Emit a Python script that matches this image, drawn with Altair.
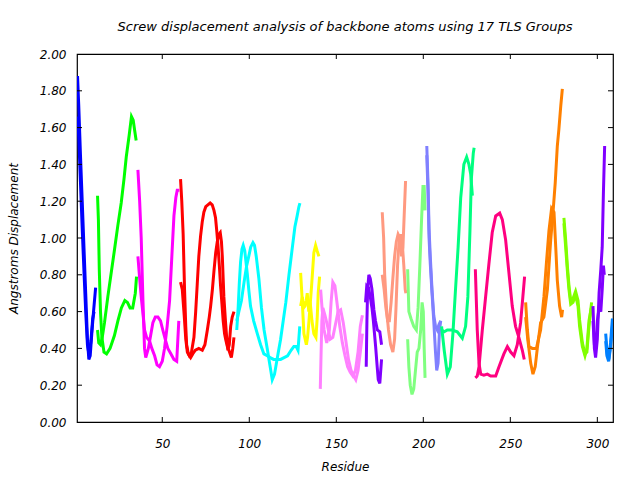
import altair as alt
import pandas as pd

TITLE = "Screw displacement analysis of backbone atoms using 17 TLS Groups"
X_TITLE = "Residue"
Y_TITLE = "Angstroms Displacement"
X_TICKS = [50, 100, 150, 200, 250, 300]
Y_TICKS = [0.0, 0.2, 0.4, 0.6, 0.8, 1.0, 1.2, 1.4, 1.6, 1.8, 2.0]
X_DOMAIN = [1, 309]
Y_DOMAIN = [0, 2]

GROUP_COLORS = ["#0000ff", "#00ff00", "#ff00ff", "#ff0000", "#00ffff", "#ffff00",
                "#ff80ff", "#8000ff", "#ff9980", "#80ff80", "#8080ff", "#00ff80",
                "#ff0080", "#ff8000", "#80ff00", "#8000ff", "#0080ff"]

# (residue, displacement) pairs; two traces per TLS group
g01_a = [(1.3, 1.88), (2, 1.72), (3, 1.45), (4, 1.2), (5, 0.95), (6, 0.7), (7, 0.45), (7.8, 0.34),
         (8.6, 0.36), (9.5, 0.48), (10.5, 0.6), (11.7, 0.73)]
g01_b = [(1.3, 1.66), (2, 1.55), (3, 1.3), (4, 1.05), (5, 0.82), (6, 0.6), (7, 0.42), (8, 0.36),
         (9, 0.44), (10, 0.56), (10.8, 0.6)]

g02_a = [(12.8, 1.23), (13.3, 1.1), (13.8, 0.83), (14.5, 0.6), (15.3, 0.46), (16.5, 0.38), (18, 0.37),
         (20, 0.40), (22.5, 0.47), (24.5, 0.55), (26.5, 0.62), (28.5, 0.66), (30, 0.65), (31.5, 0.62),
         (33, 0.62), (34.5, 0.70), (35.2, 0.79)]
g02_b = [(12.8, 0.50), (13.5, 0.43), (14.5, 0.42), (15.5, 0.46), (16.8, 0.54), (18.7, 0.68), (20.5, 0.80),
         (22.6, 0.94), (24.5, 1.07), (26.4, 1.19), (28, 1.32), (29.3, 1.44), (31, 1.56), (32.3, 1.66),
         (33.3, 1.64), (34.2, 1.58), (35, 1.53)]

g03_a = [(36, 1.37), (37, 1.20), (37.9, 1.0), (38.9, 0.66), (39.8, 0.40), (40.5, 0.35), (42, 0.40),
         (44.6, 0.54), (46, 0.57), (47.5, 0.57), (49, 0.55), (50.3, 0.50), (52, 0.44), (53.2, 0.40),
         (55, 0.37), (56.7, 0.34), (58.3, 0.33), (59.5, 0.55)]
g03_b = [(36, 0.90), (37, 0.78), (37.9, 0.68), (39, 0.58), (39.8, 0.50), (41, 0.46), (42.7, 0.44),
         (44, 0.40), (45.6, 0.36), (47, 0.31), (48.4, 0.30), (50, 0.33), (51.3, 0.40), (52.8, 0.52),
         (54.2, 0.66), (55.5, 0.90), (56.7, 1.12), (57.8, 1.22), (58.6, 1.26), (59.8, 1.26)]

g04_a = [(60.5, 1.32), (61.2, 1.20), (62, 1.02), (62.8, 0.72), (63.5, 0.52), (64, 0.42), (65, 0.37),
         (66.3, 0.35), (67.5, 0.37), (69, 0.39), (71, 0.40), (73, 0.39), (74.5, 0.42), (75.9, 0.50),
         (77, 0.57), (77.8, 0.63), (78.8, 0.72), (79.7, 0.82), (80.7, 0.92), (81.6, 0.98), (82.5, 1.02),
         (83.3, 1.03), (84, 0.98), (84.5, 0.90), (85.4, 0.68), (86.3, 0.55), (87, 0.46), (87.7, 0.39),
         (88.5, 0.42), (89.3, 0.52), (90.2, 0.57), (91.2, 0.60)]
g04_b = [(60.5, 0.76), (61.5, 0.72), (62.6, 0.58), (63.5, 0.45), (64.4, 0.38), (65.5, 0.36), (66.8, 0.38),
         (68.2, 0.46), (69.2, 0.60), (70.1, 0.75), (71, 0.90), (72, 1.01), (73, 1.09), (73.9, 1.14),
         (75, 1.17), (76.2, 1.18), (77.5, 1.19), (78.7, 1.18), (79.7, 1.15), (80.6, 1.11), (81.3, 1.04),
         (82, 0.96), (82.8, 0.85), (83.5, 0.74), (84.3, 0.64), (85, 0.55), (85.8, 0.48), (86.4, 0.45),
         (87.4, 0.41), (88.3, 0.39), (89.7, 0.35), (90.5, 0.40), (91.2, 0.46)]

g05_a = [(92.8, 0.50), (93.6, 0.62), (94.3, 0.76), (95, 0.87), (95.8, 0.94), (96.5, 0.96), (97.4, 0.93),
         (98.8, 0.81), (99.8, 0.71), (100.7, 0.63), (102.5, 0.55), (104.6, 0.48), (106.5, 0.42),
         (108.4, 0.37), (110.3, 0.36), (112, 0.35), (114, 0.34), (116, 0.34), (118, 0.34), (120, 0.35),
         (122, 0.36), (124, 0.39), (125.6, 0.41), (127, 0.41), (128, 0.39), (129, 0.52)]
g05_b = [(92.8, 0.55), (94, 0.60), (95.5, 0.66), (97, 0.76), (98.5, 0.85), (99.7, 0.90), (100.8, 0.95),
         (102.1, 0.975), (103, 0.96), (104, 0.90), (105.5, 0.78), (107, 0.62), (108.5, 0.50),
         (110.3, 0.40), (112, 0.30), (113.2, 0.23), (114.5, 0.26), (116.5, 0.37), (118, 0.45),
         (119.5, 0.55), (121, 0.65), (122.8, 0.80), (124.5, 0.93), (126.2, 1.06), (127.5, 1.12),
         (128.5, 1.17), (129.1, 1.19)]

g06_a = [(129.5, 0.81), (130.3, 0.68), (131.4, 0.48), (132.8, 0.42), (133.5, 0.46), (134.3, 0.55),
         (135.8, 0.74), (137.1, 0.92), (138.1, 0.96), (139, 0.93), (140, 0.90)]
g06_b = [(129.5, 0.63), (130.5, 0.68), (131.2, 0.62), (132, 0.63), (132.7, 0.66), (133.3, 0.70),
         (134.2, 0.60), (135, 0.65), (136, 0.55), (137.1, 0.48), (138.3, 0.46), (139, 0.56),
         (139.6, 0.70), (140.4, 0.79)]

g07_a = [(141, 0.72), (141.8, 0.62), (143, 0.50), (144.5, 0.43), (146, 0.50), (147, 0.65), (148, 0.76),
         (149.2, 0.74), (150.5, 0.64), (152, 0.52), (153.5, 0.43), (155, 0.36), (156.5, 0.30),
         (158, 0.27), (159.5, 0.25), (161, 0.28), (162.5, 0.38), (163.8, 0.52), (165, 0.58)]
g07_b = [(140.8, 0.18), (141.2, 0.35), (141.7, 0.55), (142.3, 0.62), (143.5, 0.58), (145, 0.52),
         (146.5, 0.45), (148, 0.46), (149.5, 0.53), (151, 0.60), (152.5, 0.61), (154, 0.54),
         (155.5, 0.44), (157, 0.34), (158.5, 0.28), (160, 0.25), (161.2, 0.23), (162.5, 0.28),
         (163.8, 0.38), (165, 0.48)]

g08_a = [(167.2, 0.30), (167.6, 0.55), (168, 0.72), (168.7, 0.80), (169.5, 0.78), (170.5, 0.72),
         (171.6, 0.61), (172.5, 0.55), (173.6, 0.50), (175, 0.49), (176, 0.42)]
g08_b = [(166.8, 0.65), (167.5, 0.74), (168.5, 0.73), (169.5, 0.68), (170.5, 0.62), (171.3, 0.55),
         (172.6, 0.41), (173.5, 0.30), (174.1, 0.23), (175, 0.21), (176, 0.34)]

g09_a = [(176.4, 1.14), (177.2, 1.0), (177.8, 0.80), (178.9, 0.61), (180, 0.50), (181.2, 0.42),
         (182.5, 0.38), (183.5, 0.45), (184.3, 0.62), (185.2, 0.85), (186, 0.97), (187, 1.02),
         (188, 0.96), (188.8, 0.85), (189.6, 0.72), (190, 0.70)]
g09_b = [(176.4, 0.80), (177.5, 0.72), (178.5, 0.62), (179.5, 0.55), (180.5, 0.55), (181.5, 0.65),
         (182.5, 0.78), (183.5, 0.90), (184.5, 0.98), (185.5, 1.02), (186.5, 1.0), (187.5, 0.90),
         (188.3, 0.95), (189, 1.12), (189.8, 1.31)]

g10_a = [(191, 0.83), (191.7, 0.60), (193, 0.56), (194.5, 0.52), (196, 0.50), (197, 0.62), (198, 0.85),
         (199, 1.10), (199.8, 1.28), (200.5, 1.28), (201, 1.15)]
g10_b = [(191, 0.45), (191.7, 0.30), (192.5, 0.20), (193.5, 0.15), (194.5, 0.18), (195.5, 0.28),
         (196.5, 0.38), (197.5, 0.40), (198.5, 0.50), (199.3, 0.65), (200, 0.60), (200.5, 0.40),
         (201, 0.24)]

g11_a = [(202, 1.50), (202.7, 1.30), (203.3, 1.05), (204, 0.90), (205, 0.72), (206, 0.58), (207, 0.52),
         (208, 0.50), (209, 0.53), (210, 0.55)]
g11_b = [(202, 1.45), (202.7, 1.25), (203.3, 1.0), (204, 0.86), (205, 0.70), (206, 0.55), (207, 0.38),
         (207.7, 0.28), (208.5, 0.32), (209.3, 0.50), (210, 0.55)]

g12_a = [(210.5, 0.52), (212, 0.39), (213.8, 0.26), (215.5, 0.30), (217, 0.48), (218.5, 0.72),
         (220, 0.95), (221.5, 1.22), (223.3, 1.40), (224.9, 1.44), (226.2, 1.40), (227.2, 1.35),
         (228.2, 1.23)]
g12_b = [(210.5, 0.50), (212, 0.49), (213.8, 0.50), (216.5, 0.50), (219.5, 0.49), (222.4, 0.455),
         (224.3, 0.52), (225.6, 0.68), (226.8, 1.04), (227.6, 1.32), (228.7, 1.46), (229.2, 1.49)]

g13_a = [(229.9, 0.83), (231, 0.50), (232, 0.32), (233, 0.26), (234.8, 0.255), (236.8, 0.26),
         (238.7, 0.25), (241.6, 0.25), (243.5, 0.30), (246.3, 0.37), (248.3, 0.41), (250.2, 0.38),
         (252.1, 0.36), (254, 0.42), (255.9, 0.54), (257.2, 0.68), (258.2, 0.79)]
g13_b = [(229.9, 0.24), (231, 0.25), (232, 0.30), (233.9, 0.50), (235.8, 0.68), (237.7, 0.86),
         (239.6, 1.03), (241.6, 1.12), (243.9, 1.135), (245.4, 1.10), (247.3, 0.99), (249.2, 0.81),
         (251.1, 0.63), (253, 0.52), (254.9, 0.46), (256.9, 0.39), (258, 0.34)]

g14_a = [(258.8, 0.65), (259.8, 0.50), (260.7, 0.41), (262.6, 0.40), (265, 0.40), (266.4, 0.46),
         (267.4, 0.50), (269.3, 0.68), (270.7, 0.86), (272.2, 1.04), (273.7, 1.16), (275.1, 1.14),
         (276.1, 0.95), (277, 0.77), (278.3, 0.63), (279.5, 0.57), (280, 0.61)]
g14_b = [(258.8, 0.57), (260, 0.45), (261.7, 0.32), (263, 0.26), (264.3, 0.30), (265.5, 0.40),
         (267.4, 0.54), (269.3, 0.57), (271.3, 0.72), (273.2, 0.99), (274.5, 1.135), (275.8, 1.30),
         (277, 1.50), (277.9, 1.59), (279, 1.72), (279.9, 1.81)]

g15_a = [(280.8, 1.11), (281.8, 0.99), (282.8, 0.845), (283.7, 0.74), (284.7, 0.66), (286, 0.67),
         (287.5, 0.71), (288.9, 0.66), (289.8, 0.555), (291.4, 0.43), (292.9, 0.37), (294, 0.38),
         (295.2, 0.52), (296.7, 0.65)]
g15_b = [(280.8, 1.08), (281.8, 0.95), (282.8, 0.82), (283.7, 0.72), (284.7, 0.64), (286, 0.65),
         (287.5, 0.69), (288.9, 0.63), (289.8, 0.52), (291.4, 0.41), (292.9, 0.36), (294, 0.40),
         (295.2, 0.55), (296.5, 0.62)]

g16_a = [(297.5, 0.63), (298.3, 0.40), (299, 0.35), (300, 0.45), (301, 0.70), (302, 0.83), (302.8, 0.95),
         (303.5, 1.25), (304.2, 1.50)]
g16_b = [(297.5, 0.55), (298.3, 0.42), (299.2, 0.40), (300, 0.55), (301, 0.62), (302, 0.60),
         (302.8, 0.72), (303.5, 0.85), (304, 0.80)]

g17_a = [(304.8, 0.48), (305.7, 0.37), (306.6, 0.34), (307.6, 0.43), (308.6, 0.555), (309, 0.555)]
g17_b = [(304.8, 0.44), (305.5, 0.36), (306.5, 0.33), (307.5, 0.40), (308.5, 0.50), (309, 0.56)]

GROUPS = [(g01_a, g01_b), (g02_a, g02_b), (g03_a, g03_b), (g04_a, g04_b), (g05_a, g05_b),
          (g06_a, g06_b), (g07_a, g07_b), (g08_a, g08_b), (g09_a, g09_b), (g10_a, g10_b),
          (g11_a, g11_b), (g12_a, g12_b), (g13_a, g13_b), (g14_a, g14_b), (g15_a, g15_b),
          (g16_a, g16_b), (g17_a, g17_b)]

rows = []
for gi, (ta, tb) in enumerate(GROUPS):
    for ci, trace in enumerate((ta, tb)):
        for oi, (r, v) in enumerate(trace):
            rows.append({"res": r, "val": v, "group": f"G{gi + 1:02d}",
                         "trace": f"G{gi + 1:02d}{ci}", "ord": oi})
df = pd.DataFrame(rows)
group_names = [f"G{i + 1:02d}" for i in range(len(GROUP_COLORS))]

W, H = 536, 368
FONT = "DejaVu Sans"
TICK = 5

text_style = dict(labelFont=FONT, labelFontSize=12, labelFontStyle="italic", labelColor="black",
                  titleFont=FONT, titleFontSize=12, titleFontStyle="italic", titleFontWeight="normal",
                  titleColor="black")

xscale = alt.Scale(domain=X_DOMAIN, nice=False, zero=False)
yscale = alt.Scale(domain=Y_DOMAIN, nice=False, zero=False)
xaxis = alt.Axis(values=X_TICKS, format="d", ticks=False, domain=False, grid=False,
                 labelPadding=16, labelFlush=False, title=X_TITLE, titlePadding=12, **text_style)
yaxis = alt.Axis(values=Y_TICKS, format=".2f", ticks=False, domain=False, grid=False,
                 labelPadding=11, labelFlush=False, title=Y_TITLE, titlePadding=19, **text_style)

lines = alt.Chart(df).mark_line(strokeWidth=3, clip=True).encode(
    x=alt.X("res:Q", scale=xscale, axis=xaxis, title=X_TITLE),
    y=alt.Y("val:Q", scale=yscale, axis=yaxis, title=Y_TITLE),
    color=alt.Color("group:N", scale=alt.Scale(domain=group_names, range=GROUP_COLORS), legend=None),
    detail="trace:N",
    order="ord:Q",
)

xt = pd.DataFrame({"res": X_TICKS})
yt = pd.DataFrame({"val": Y_TICKS[1:-1]})
tick_style = dict(color="black", strokeWidth=1)
xb = alt.Chart(xt).mark_rule(**tick_style).encode(
    x=alt.X("res:Q", scale=xscale, axis=xaxis, title=X_TITLE), y=alt.value(H), y2=alt.value(H - TICK))
xtop = alt.Chart(xt).mark_rule(**tick_style).encode(
    x=alt.X("res:Q", scale=xscale, axis=xaxis, title=X_TITLE), y=alt.value(0), y2=alt.value(TICK))
yl = alt.Chart(yt).mark_rule(**tick_style).encode(
    y=alt.Y("val:Q", scale=yscale, axis=yaxis, title=Y_TITLE), x=alt.value(0), x2=alt.value(TICK))
yr = alt.Chart(yt).mark_rule(**tick_style).encode(
    y=alt.Y("val:Q", scale=yscale, axis=yaxis, title=Y_TITLE), x=alt.value(W - TICK), x2=alt.value(W))

chart = alt.layer(lines, xb, xtop, yl, yr).properties(
    width=W, height=H,
    background="white",
    autosize=alt.AutoSizeParams(type="none"),
    padding={"left": 77, "top": 54, "right": 640 - 77 - W, "bottom": 480 - 54 - H},
    title=alt.TitleParams(TITLE, font=FONT, fontSize=13, fontStyle="italic", fontWeight="normal",
                          anchor="middle", offset=14, color="black"),
).configure_view(stroke="black", strokeWidth=1.2)

chart.save("out.html", embed_options={"renderer": "svg", "actions": False})
